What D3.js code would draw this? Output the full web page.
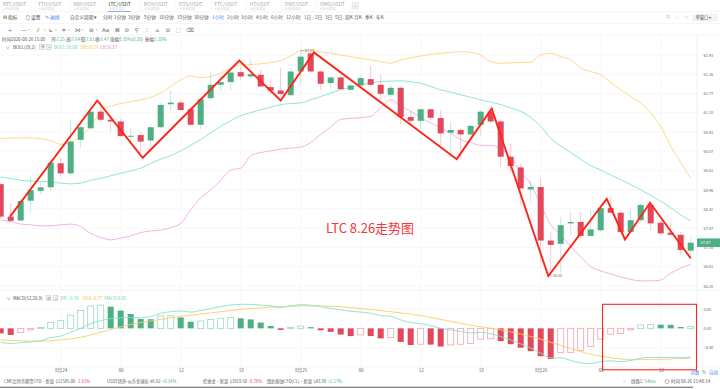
<!DOCTYPE html>
<html><head><meta charset="utf-8">
<script src="https://cdn.jsdelivr.net/npm/d3@7/dist/d3.min.js"></script>
<style>
html,body{margin:0;padding:0;background:#fff;overflow:hidden;}
svg{display:block;font-family:"Noto Sans CJK SC","Noto Sans",sans-serif;}
</style></head><body>
<svg id="c" width="720" height="389"></svg>
<script>
// ---------------- DATA ----------------
const openP = [59.12,58.20,58.09,58.65,58.93,59.03,59.72,59.43,60.40,60.74,61.23,60.99,60.94,60.49,60.54,60.38,60.77,61.45,61.50,61.30,60.84,61.63,62.03,62.11,62.41,62.28,62.33,61.96,61.86,61.72,62.43,62.98,62.43,62.08,62.25,61.88,62.01,62.20,62.03,61.73,61.94,61.07,60.96,61.30,61.04,60.61,60.69,60.56,60.84,61.23,60.94,59.91,59.60,58.97,59.04,57.53,57.44,58.01,58.05,57.66,57.82,58.44,58.31,57.77,58.10,58.53,58.03,57.75,57.69,57.25];
const highP = [59.16,58.58,58.69,59.33,59.16,59.86,59.89,60.99,60.94,61.50,61.56,61.09,61.01,60.74,60.64,60.84,61.48,61.85,61.58,61.37,61.66,62.41,62.28,62.53,62.58,62.81,62.50,62.20,62.56,62.53,63.04,63.02,62.50,62.28,62.33,62.10,62.30,62.60,62.33,62.03,61.98,61.23,61.33,61.33,61.28,60.94,60.74,60.84,61.28,61.33,60.99,60.28,59.72,59.22,59.28,57.77,58.18,58.34,58.31,58.39,58.48,58.77,58.34,58.39,58.58,58.62,58.10,58.05,57.77,57.64];
const lowP = [58.15,58.04,58.06,58.31,58.83,58.93,59.32,59.38,60.16,60.69,60.93,60.64,60.49,60.30,60.01,60.19,60.74,61.26,61.26,60.79,60.71,61.58,61.85,61.85,62.18,62.20,61.96,61.73,61.68,61.68,62.06,62.38,61.88,61.90,61.88,61.78,61.98,61.98,61.58,61.66,60.84,60.89,60.69,60.99,60.25,59.86,59.82,60.49,60.54,60.89,59.62,59.44,58.50,58.58,56.95,56.58,56.63,57.69,57.59,57.64,57.77,58.30,57.75,57.73,58.05,57.80,57.71,57.66,57.13,57.01];
const closeP = [58.20,58.08,58.64,58.95,59.03,59.74,59.43,60.35,60.77,61.23,60.99,60.94,60.51,60.52,60.35,60.77,61.43,61.50,61.28,60.84,61.60,62.03,62.11,62.40,62.28,62.35,61.98,61.86,61.75,62.43,62.88,62.43,62.06,62.25,61.90,62.01,62.23,62.03,61.76,61.94,61.07,60.96,61.30,61.05,60.59,60.69,60.56,60.81,61.23,60.94,59.91,59.64,59.00,59.04,57.53,57.41,57.96,58.05,57.66,57.84,58.44,58.31,57.77,58.10,58.53,58.01,57.73,57.69,57.27,57.47];

const bollMid = [59.33,59.28,59.23,59.21,59.20,59.18,59.15,59.13,59.15,59.23,59.29,59.36,59.43,59.50,59.58,59.72,59.84,59.94,60.08,60.24,60.41,60.60,60.80,60.96,61.11,61.20,61.29,61.36,61.44,61.47,61.49,61.58,61.68,61.78,61.88,61.95,62.03,62.08,62.13,62.14,62.15,62.12,62.08,61.98,61.88,61.81,61.73,61.66,61.58,61.51,61.44,61.34,61.24,61.06,60.80,60.45,60.22,60.03,59.84,59.65,59.53,59.38,59.25,59.11,58.96,58.80,58.64,58.45,58.25,58.08];
const bollUp = [60.44,60.45,60.46,60.46,60.43,60.38,60.27,60.33,60.51,60.78,61.24,61.39,61.47,61.53,61.58,61.66,61.78,61.98,62.18,62.30,62.25,62.28,62.38,62.53,62.63,62.64,62.66,62.70,62.76,62.90,63.06,63.08,63.03,62.98,62.93,62.88,62.83,62.78,62.73,62.68,62.78,62.84,62.90,62.95,62.98,63.01,63.03,63.01,62.93,62.73,62.68,62.69,62.70,62.71,62.93,62.98,62.88,62.78,62.53,62.43,62.33,62.10,61.88,61.68,61.49,61.19,60.80,60.22,59.75,59.29];
const bollLow = [58.11,58.06,57.99,57.97,57.94,57.94,57.97,57.99,57.92,57.73,57.62,57.55,57.60,57.66,57.75,57.80,57.82,57.89,58.01,58.39,58.73,58.96,59.23,59.53,59.58,59.94,60.03,60.08,60.13,60.16,60.19,60.32,60.56,60.78,61.00,61.03,61.05,61.09,61.34,61.58,61.39,61.24,61.05,60.90,60.75,60.59,60.41,60.32,60.24,60.24,60.13,59.89,59.48,59.11,58.54,57.97,57.69,57.36,57.08,56.81,56.69,56.61,56.53,56.46,56.42,56.42,56.44,56.63,56.77,56.87];

const macdHist = [-0.13,-0.17,-0.11,-0.04,0.02,0.155,0.20,0.34,0.46,0.58,0.60,0.56,0.46,0.37,0.24,0.235,0.32,0.325,0.28,0.17,0.19,0.23,0.26,0.28,0.26,0.23,0.15,0.06,-0.04,0.02,0.06,0.03,-0.05,-0.09,-0.16,-0.20,-0.17,-0.20,-0.26,-0.24,-0.35,-0.43,-0.41,-0.42,-0.47,-0.43,-0.41,-0.39,-0.28,-0.27,-0.33,-0.41,-0.50,-0.59,-0.72,-0.79,-0.63,-0.62,-0.58,-0.47,-0.28,-0.15,-0.13,-0.04,0.09,0.10,0.095,0.09,0.035,0.05];
const difV = [-0.36,-0.39,-0.37,-0.35,-0.32,-0.24,-0.20,-0.10,0.00,0.12,0.20,0.25,0.27,0.28,0.27,0.31,0.39,0.43,0.45,0.42,0.46,0.51,0.56,0.60,0.62,0.62,0.60,0.58,0.54,0.58,0.61,0.60,0.56,0.52,0.48,0.44,0.42,0.39,0.33,0.31,0.22,0.15,0.12,0.07,0.00,-0.04,-0.08,-0.12,-0.10,-0.14,-0.21,-0.30,-0.40,-0.51,-0.64,-0.76,-0.76,-0.83,-0.89,-0.91,-0.86,-0.84,-0.86,-0.83,-0.77,-0.75,-0.75,-0.75,-0.76,-0.74];
const deaV = [-0.30,-0.31,-0.32,-0.33,-0.33,-0.32,-0.30,-0.27,-0.23,-0.17,-0.10,-0.03,0.04,0.10,0.15,0.19,0.23,0.27,0.31,0.34,0.37,0.40,0.43,0.46,0.49,0.51,0.53,0.55,0.56,0.57,0.58,0.58,0.58,0.57,0.56,0.54,0.51,0.49,0.46,0.43,0.40,0.37,0.33,0.28,0.23,0.18,0.13,0.08,0.04,0.00,-0.04,-0.09,-0.15,-0.21,-0.28,-0.36,-0.44,-0.52,-0.60,-0.67,-0.72,-0.76,-0.79,-0.81,-0.81,-0.80,-0.80,-0.79,-0.78,-0.77];

// hand-drawn zigzag trend line (candle index, price)
const zigIdx = [0.93,9.66,14.2,23.86,28.0,31.33,45.6,49.1,54.76,60.6,62.43,64.93,69.0];
const zigPrice = [58.20,61.56,59.88,62.76,61.56,63.01,59.84,61.32,56.55,58.70,57.56,58.59,57.04];

const yTicks = [62.93,62.35,61.77,61.20,60.63,60.07,59.51,58.96,58.42,57.87,57.34,56.81,56.28];
const macdTicks = [0.5,0,-0.5];
const xTickIdx = [6,12,18,24,30,36,42,48,54,60,66];
const xTickLabels = ["8月24","06","12","18","8月25","06","12","18","8月26","06","12"];

const symbols = ["BTC/USDT","ETH/USDT","XRP/USDT","LTC/USDT","BCH/USDT","EOS/USDT","ETC/USDT","HT/USDT","ONT/USDT","OMG/USDT"];
const periods = ["分时","1分钟","3分钟","5分钟","10分钟","15分钟","30分钟","1小时","2小时","3小时","4小时","6小时","12小时","1日","2日","3日","5日","周K","月K","季K","年K"];
const tickerNames = ["CME比特币期货CFD·新浪","USDT场外-火币全球站","伦敦金·新浪","纽约原油CFD(CL)·新浪"];
const tickerPrices = ["$11505.00","¥6.92","$1919.50","$43.39"];
const tickerChanges = ["-1.91%","+0.14%","-0.78%","+2.17%"];

// ---------------- COLORS / LAYOUT ----------------
const UP="#4cb083", DOWN="#e3475a";
const C_MID="#7fe3cb", C_UB="#ffd27c", C_LB="#f6a6e2";
const C_DIF="#7fe3cb", C_DEA="#fccb6a";
const n = closeP.length;
const svg = d3.select("#c");
const plotR = 697;

const x = d3.scaleLinear().domain([0, 69]).range([0.7, 690.7]);
const y = d3.scaleLog().domain([56.28, 62.93]).range([286, 55]);
const ym = d3.scaleLinear().domain([-0.5, 0.5]).range([347.7, 309]);

svg.append("rect").attr("width",720).attr("height",389).attr("fill","#fff");

// ---------- top tab bar ----------
const tabs = svg.append("g");
const tabX = d3.scaleLinear().domain([0,1]).range([3,38.2]);
symbols.forEach((s,i)=>{
  const sel = s==="LTC/USDT";
  tabs.append("text").attr("x",tabX(i)).attr("y",5.6).attr("font-size",4.8)
    .attr("fill", sel?"#333":"#a5a5a5").text(s);
  tabs.append("text").attr("x",tabX(i)).attr("y",9.6).attr("font-size",3.2)
    .attr("fill","#d0d0d0").text("火币全球站");
  if(i>0) tabs.append("line").attr("x1",tabX(i)-3).attr("x2",tabX(i)-3).attr("y1",1).attr("y2",10.5).attr("stroke","#f0f0f0").attr("stroke-width",0.6);
});
tabs.append("rect").attr("x",107.5).attr("y",11).attr("width",23).attr("height",1).attr("fill","#3d7ff0");
tabs.append("rect").attr("x",352).attr("y",2.5).attr("width",6.5).attr("height",6.5).attr("fill","#f0f0f0").attr("stroke","#ddd").attr("stroke-width",0.4);
tabs.append("text").attr("x",355.2).attr("y",7.4).attr("font-size",5).attr("text-anchor","middle").attr("fill","#888").text("›");
svg.append("line").attr("x1",0).attr("x2",720).attr("y1",11.8).attr("y2",11.8).attr("stroke","#ececec").attr("stroke-width",0.6);
svg.append("line").attr("x1",0).attr("x2",720).attr("y1",23.4).attr("y2",23.4).attr("stroke","#ececec").attr("stroke-width",0.6);

// ---------- toolbar row ----------
const tb = svg.append("g").attr("font-size",4.7);
tb.append("text").attr("x",2.5).attr("y",19.2).attr("fill","#555").text("⊟");
tb.append("text").attr("x",8).attr("y",19.2).attr("fill","#444").text("指标");
tb.append("text").attr("x",25.5).attr("y",19.2).attr("fill","#555").text("◎");
tb.append("text").attr("x",31).attr("y",19.2).attr("fill","#444").text("设置");
tb.append("text").attr("x",44.8).attr("y",19.2).attr("fill","#3d7ff0").text("✎");
tb.append("text").attr("x",50).attr("y",19.2).attr("fill","#3d7ff0").text("画线");
tb.append("text").attr("x",70).attr("y",19.2).attr("fill","#555").text("自定义周期 ▾");
const periodX = [103,114,128,144,159,177,194,212,227,241,256,271,286,304,315,325,335,345,354,365,376];
periods.forEach((p,i)=>{
  tb.append("text").attr("x",periodX[i]).attr("y",19.2)
    .attr("fill", p==="1小时"?"#3d7ff0":"#555").text(p);
});
tb.append("text").attr("x",666).attr("y",19.2).attr("fill","#999").attr("font-size",4).text("⇅");
tb.append("text").attr("x",675.5).attr("y",19.2).attr("fill","#999").attr("font-size",4).text("⁙");
tb.append("text").attr("x",684.5).attr("y",19.2).attr("fill","#999").attr("font-size",4).text("⛶");
tb.append("rect").attr("x",693).attr("y",14.5).attr("width",24).attr("height",6.5).attr("fill","#f4f4f4").attr("stroke","#e2e2e2").attr("stroke-width",0.4);
tb.append("text").attr("x",695.5).attr("y",19.3).attr("fill","#555").attr("font-size",4.3).text("单窗口 ▾");

// ---------- drawing tools row ----------
const toolGlyph = ["+","—","⫽","⊾","≑","⋈","⊞","Aa","⌘","⊘","⚲","⫶","⌂","⧉","⬚","⌫"];
const toolX = [7.5,21,37,48.5,61.5,75,89,102,114.5,124.5,134.5,145.5,155.5,165.5,175.5,186];
toolGlyph.forEach((g,i)=>{
  svg.append("text").attr("x",toolX[i]).attr("y",31.5).attr("font-size",5.6)
    .attr("fill", i===0?"#3d7ff0":"#6f6f6f").attr("font-family","DejaVu Sans").text(g);
  if(i>0 && i<7) svg.append("text").attr("x",toolX[i]+6.5).attr("y",31).attr("font-size",3).attr("fill","#999").text("▾");
});

// ---------- grid ----------
const grid = svg.append("g").attr("stroke","#f3f3f3").attr("stroke-width",0.7);
xTickIdx.forEach(t=>{
  grid.append("line").attr("x1",x(t)).attr("x2",x(t)).attr("y1",35).attr("y2",366.5);
});
yTicks.forEach(t=>{
  grid.append("line").attr("x1",0).attr("x2",plotR).attr("y1",y(t)).attr("y2",y(t));
});
macdTicks.forEach(t=>{
  grid.append("line").attr("x1",0).attr("x2",plotR).attr("y1",ym(t)).attr("y2",ym(t));
});
svg.append("line").attr("x1",plotR).attr("x2",plotR).attr("y1",35).attr("y2",367).attr("stroke","#e8e8e8").attr("stroke-width",0.7);
svg.append("line").attr("x1",0).attr("x2",720).attr("y1",35).attr("y2",35).attr("stroke","#f0f0f0").attr("stroke-width",0.6);
svg.append("line").attr("x1",0).attr("x2",720).attr("y1",290).attr("y2",290).attr("stroke","#ececec").attr("stroke-width",0.7);
svg.append("line").attr("x1",0).attr("x2",720).attr("y1",366.8).attr("y2",366.8).attr("stroke","#ececec").attr("stroke-width",0.7);

// ---------- clip ----------
const defs = svg.append("defs");
defs.append("clipPath").attr("id","mainClip").append("rect").attr("x",0).attr("y",35).attr("width",plotR).attr("height",255);
defs.append("clipPath").attr("id","macdClip").append("rect").attr("x",0).attr("y",290).attr("width",plotR).attr("height",77);

const main = svg.append("g").attr("clip-path","url(#mainClip)");
const idx = d3.range(n);

// BOLL lines
const lineOf = arr => d3.line().x(i=>x(i)).y(i=>y(arr[i])).curve(d3.curveMonotoneX)(idx);
main.append("path").attr("d",lineOf(bollUp)).attr("fill","none").attr("stroke",C_UB).attr("stroke-width",0.9);
main.append("path").attr("d",lineOf(bollMid)).attr("fill","none").attr("stroke",C_MID).attr("stroke-width",0.9);
main.append("path").attr("d",lineOf(bollLow)).attr("fill","none").attr("stroke",C_LB).attr("stroke-width",0.9);

// candles
const cg = main.append("g");
idx.forEach(i=>{
  const up = closeP[i] >= openP[i];
  const col = up?UP:DOWN;
  cg.append("line").attr("x1",x(i)).attr("x2",x(i))
    .attr("y1",y(highP[i])).attr("y2",y(lowP[i]))
    .attr("stroke",col).attr("stroke-opacity",0.3).attr("stroke-width",1);
  const top = y(Math.max(openP[i],closeP[i])), bot = y(Math.min(openP[i],closeP[i]));
  cg.append("rect").attr("x",x(i)-3).attr("y",top).attr("width",6)
    .attr("height",Math.max(1,bot-top)).attr("fill",col);
});

// high / low markers
const iMax = d3.maxIndex(highP), iMin = d3.minIndex(lowP);
main.append("text").attr("x",x(iMax)).attr("y",y(highP[iMax])+1).attr("font-size",3.6).attr("fill","#777")
  .text("← " + highP[iMax].toFixed(2));
main.append("text").attr("x",x(iMin)-2).attr("y",y(lowP[iMin])+1.5).attr("font-size",3.6).attr("fill","#777")
  .text("← " + lowP[iMin].toFixed(2));

// zigzag
const zz = d3.line().x(d=>x(d[0])).y(d=>y(d[1]));
main.append("path").attr("d",zz(zigIdx.map((v,i)=>[v,zigPrice[i]])))
  .attr("fill","none").attr("stroke","#ff2418").attr("stroke-width",1.9).attr("stroke-linejoin","miter");

// center title
svg.append("text").attr("x",370).attr("y",233).attr("text-anchor","middle").attr("font-size",13)
  .attr("fill","#f0393c").text("LTC 8.26走势图");

// price axis
const yAxis = d3.axisRight(y).tickValues(yTicks).tickFormat(d3.format(".2f")).tickSize(0).tickPadding(0);
const ya = svg.append("g").attr("transform",`translate(703.5,0)`).call(yAxis);
ya.select(".domain").remove();
ya.selectAll("text").attr("font-size",3.9).attr("fill","#666").attr("font-family","Noto Sans CJK SC");

// last price label
const last = closeP[n-1];
svg.append("rect").attr("x",plotR).attr("y",y(last)-4.3).attr("width",23).attr("height",8.6).attr("fill",UP);
svg.append("text").attr("x",700.5).attr("y",y(last)+1.5).attr("font-size",4).attr("fill","#fff").text(last.toFixed(2));

// legend rows
const info = svg.append("text").attr("y",41.2).attr("font-size",4.4);
const infoParts = [[2,"时间2020-08-26 15:00","#555"],[51,"开","#555"],[54,openP[n-1].toFixed(2),UP],[66,"高","#555"],[69,highP[n-1].toFixed(2),UP],[80.5,"低","#555"],[83.5,lowP[n-1].toFixed(2),UP],[95,"收","#555"],[98,closeP[n-1].toFixed(2),UP],[110,"涨幅","#555"],[119,"0.35%(0.20)",UP],[145,"振幅","#555"],[154,"1.10%",UP]];
infoParts.forEach(p=>info.append("tspan").attr("x",p[0]).attr("fill",p[2]).text(p[1]));

function legendIcons(g, x0, yy){
  [0,7].forEach(dx=>{
    g.append("rect").attr("x",x0+dx).attr("y",yy-4).attr("width",4.8).attr("height",4.8)
      .attr("fill","#f2f2f2").attr("stroke","#b5b5b5").attr("stroke-width",0.4);
  });
  g.append("text").attr("x",x0+1).attr("y",yy-0.3).attr("font-size",3.6).attr("fill","#888").text("⚙");
  g.append("text").attr("x",x0+8).attr("y",yy-0.3).attr("font-size",3.6).attr("fill","#888").text("×");
}
const lg = svg.append("g").attr("font-size",4.4);
lg.append("text").attr("x",5.5).attr("y",48.6).attr("fill","#888").text("∨");
lg.append("text").attr("x",13).attr("y",48.6).attr("fill","#444").text("BOLL(19,2)");
legendIcons(lg, 39.5, 48.6);
lg.append("text").attr("x",54).attr("y",48.6).attr("fill","#5fd8b8").text("BOLL:"+bollMid[n-1].toFixed(2));
lg.append("text").attr("x",80).attr("y",48.6).attr("fill","#f7bd45").text("UB:"+bollUp[n-1].toFixed(2));
lg.append("text").attr("x",100).attr("y",48.6).attr("fill","#ee7fd6").text("LB:"+bollLow[n-1].toFixed(2));

// ---------- MACD pane ----------
const mg = svg.append("g").attr("clip-path","url(#macdClip)");
idx.forEach(i=>{
  const v = macdHist[i];
  const pos = v >= 0;
  const hollow = i>0 && v >= macdHist[i-1];
  const y0 = ym(0), y1 = ym(v);
  const top = Math.min(y0,y1), h = Math.max(0.8, Math.abs(y1-y0));
  if(hollow){
    mg.append("rect").attr("x",x(i)-3).attr("y",top).attr("width",6).attr("height",h)
      .attr("fill","#fff").attr("stroke", pos?"#9ad8bb":"#f2a2ac").attr("stroke-width",0.8);
  } else {
    mg.append("rect").attr("x",x(i)-3).attr("y",top).attr("width",6).attr("height",h)
      .attr("fill", pos?UP:DOWN);
  }
});
const mline = arr => d3.line().x(i=>x(i)).y(i=>ym(arr[i])).curve(d3.curveMonotoneX)(idx);
mg.append("path").attr("d",mline(deaV)).attr("fill","none").attr("stroke",C_DEA).attr("stroke-width",0.9);
mg.append("path").attr("d",mline(difV)).attr("fill","none").attr("stroke",C_DIF).attr("stroke-width",0.9);

const ml = svg.append("g").attr("font-size",4.4);
ml.append("text").attr("x",6.5).attr("y",299.8).attr("fill","#888").text("∨");
ml.append("text").attr("x",13).attr("y",299.8).attr("fill","#444").text("MACD(12,26,9)");
legendIcons(ml, 46, 299.8);
ml.append("text").attr("x",60.5).attr("y",299.8).attr("fill","#5fd8b8").text("DIF:"+difV[n-1].toFixed(2));
ml.append("text").attr("x",83).attr("y",299.8).attr("fill","#f7bd45").text("DEA:"+deaV[n-1].toFixed(2));
ml.append("text").attr("x",104.5).attr("y",299.8).attr("fill","#6fd3a9").text("MACD:"+macdHist[n-1].toFixed(2));

const mAxis = d3.axisRight(ym).tickValues(macdTicks).tickFormat(d3.format(".2f")).tickSize(0).tickPadding(0);
const ma = svg.append("g").attr("transform",`translate(703.5,0)`).call(mAxis);
ma.select(".domain").remove();
ma.selectAll("text").attr("font-size",3.9).attr("fill","#666").attr("font-family","Noto Sans CJK SC");

// annotation box
svg.append("rect").attr("x",602.5).attr("y",304.3).attr("width",94).attr("height",65.5)
  .attr("fill","none").attr("stroke","#f22b24").attr("stroke-width",1.1);

// ---------- time axis ----------
const xAxis = d3.axisBottom(x).tickValues(xTickIdx).tickFormat((d,i)=>xTickLabels[i]).tickSize(0).tickPadding(0);
const xa = svg.append("g").attr("transform","translate(0,368.5)").call(xAxis);
xa.select(".domain").remove();
xa.selectAll("text").attr("font-size",4.6).attr("fill","#666").attr("font-family","Noto Sans CJK SC");
const sc = svg.append("text").attr("y",373.8).attr("font-size",4.4);
sc.append("tspan").attr("x",690.5).attr("fill","#3d7ff0").text("对数");
sc.append("tspan").attr("x",702).attr("fill","#888").text("%");
sc.append("tspan").attr("x",709).attr("fill","#3d7ff0").text("自动");

// ---------- bottom ticker bar ----------
const tickerX = [4,107,203,267];
tickerNames.forEach((nm,i)=>{
  const t = svg.append("text").attr("x",tickerX[i]).attr("y",383.3).attr("font-size",4.2);
  t.append("tspan").attr("fill","#555").text(nm);
  t.append("tspan").attr("dx",1.5).attr("fill","#555").text(tickerPrices[i]);
  t.append("tspan").attr("dx",1.5).attr("fill",tickerChanges[i][0]==="-"?DOWN:UP).text(tickerChanges[i]);
});
svg.append("text").attr("x",621.5).attr("y",383.3).attr("font-size",4.6).attr("fill","#777").attr("font-family","DejaVu Sans").text("⌔");
const ln = svg.append("text").attr("x",631).attr("y",383.3).attr("font-size",4.4);
ln.append("tspan").attr("fill","#555").text("线路1:");
ln.append("tspan").attr("dx",1).attr("fill",UP).text("54ms");
svg.append("circle").attr("cx",667).attr("cy",381.6).attr("r",2).attr("fill","none").attr("stroke","#777").attr("stroke-width",0.5);
svg.append("text").attr("x",671).attr("y",383.3).attr("font-size",4.4).attr("fill","#555").text("时间 08-26 15:48:14");
svg.append("rect").attr("x",0).attr("y",386.6).attr("width",693).attr("height",1.4).attr("fill","#8a8a8a");
</script>
</body></html>
